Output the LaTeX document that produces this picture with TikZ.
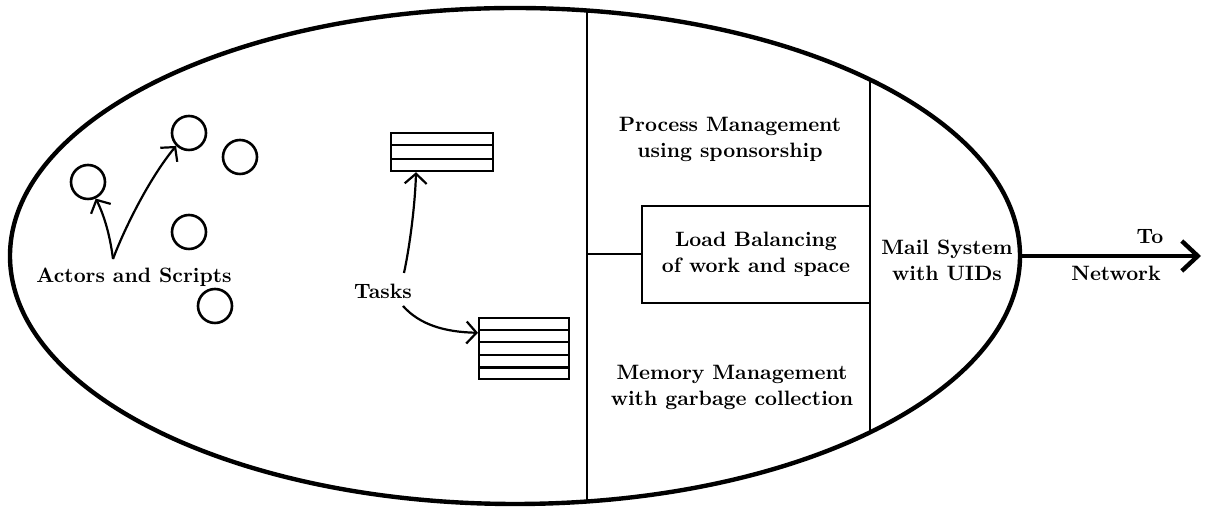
\documentclass[tikz,border=0pt]{standalone}
\usetikzlibrary{arrows.meta,shapes.geometric,calc}
\begin{document}
\begin{tikzpicture}[x=0.5pt,y=-0.5pt,
  lbl/.style={font=\fontsize{10.4}{13}\selectfont\bfseries, align=center, inner sep=0pt},
  actor/.style={circle, draw, line width=1.3pt, minimum size=17pt, inner sep=0pt},
  flow/.style={line width=1.1pt, -{Straight Barb[length=5pt,width=11pt]}},
  wall/.style={line width=1pt},
  taskbox/.style={draw, line width=1.1pt, inner sep=0pt, anchor=north west}]
\useasboundingbox (0,0) rectangle (1207,517);
% the cell
\node[draw, ellipse, line width=2.2pt, minimum width=505pt, minimum height=248pt,
      inner sep=0pt, outer sep=0pt] (cell) at (515,256) {};
% dividing walls
\coordinate (d1t) at (587,10.5);
\coordinate (d1b) at (587,501.5);
\draw[wall] (d1t) -- (d1b);
\coordinate (d2t) at (870,79.6);
\coordinate (d2b) at (870,432.4);
\draw[wall] (d2t) -- (d2b);
% load balancing box
\node[lbl, draw, line width=1pt, minimum width=114pt, minimum height=48.5pt] (lb) at (756,254.5)
  {Load Balancing\\of work and space};
\coordinate (j) at (587,254.5);
\draw[wall] (j) -- (lb.west);
% texts of the right part
\node[lbl] (pm) at (730,139) {Process Management\\using sponsorship};
\node[lbl] (mm) at (732,387) {Memory Management\\with garbage collection};
\node[lbl] (ms) at (947,260) {Mail System\\with UIDs};
\node[lbl] (to) at (1150,237) {To};
\node[lbl] (nw) at (1116,273) {Network};
\coordinate (net) at (1201,256);
\draw[line width=2.2pt, -{Straight Barb[length=8pt,width=15pt]}] (cell.east) -- (net);
% actors
\node[actor] (a1) at (88,182) {};
\node[actor] (b1) at (189,133) {};
\node[actor] (c1) at (240,157) {};
\node[actor] (d1) at (189,232) {};
\node[actor] (e1) at (215,306) {};
\node[lbl] (as) at (134,277) {Actors and Scripts};
\coordinate (apex) at (113,259);
\draw[flow] (apex) .. controls (110,235) and (104,215) .. (a1.-65);
\draw[flow] (apex) .. controls (123,232) and (148,180) .. (b1.-135);
% tasks
\node[taskbox, minimum width=51pt, minimum height=19pt] (t1) at (390,132) {};
\foreach \k in {1,2}
  \draw[line width=1.1pt] ($(t1.north west)!\k/3!(t1.south west)$) -- ($(t1.north east)!\k/3!(t1.south east)$);
\node[taskbox, minimum width=45pt, minimum height=30.5pt] (t2) at (478,317) {};
\foreach \k in {1,...,4}
  \draw[line width=1.1pt] ($(t2.north west)!\k/5!(t2.south west)$) -- ($(t2.north east)!\k/5!(t2.south east)$);
\node[lbl] (tk) at (383,291) {Tasks};
\coordinate (ta) at (404,273);
\coordinate (tb) at (403,306);
\draw[flow] (ta) .. controls (410,245) and (415,205) .. ($(t1.south west)!0.25!(t1.south east)$);
\draw[flow] (tb) .. controls (420,325) and (445,332) .. ($(t2.north west)!0.25!(t2.south west)$);
\end{tikzpicture}
\end{document}
